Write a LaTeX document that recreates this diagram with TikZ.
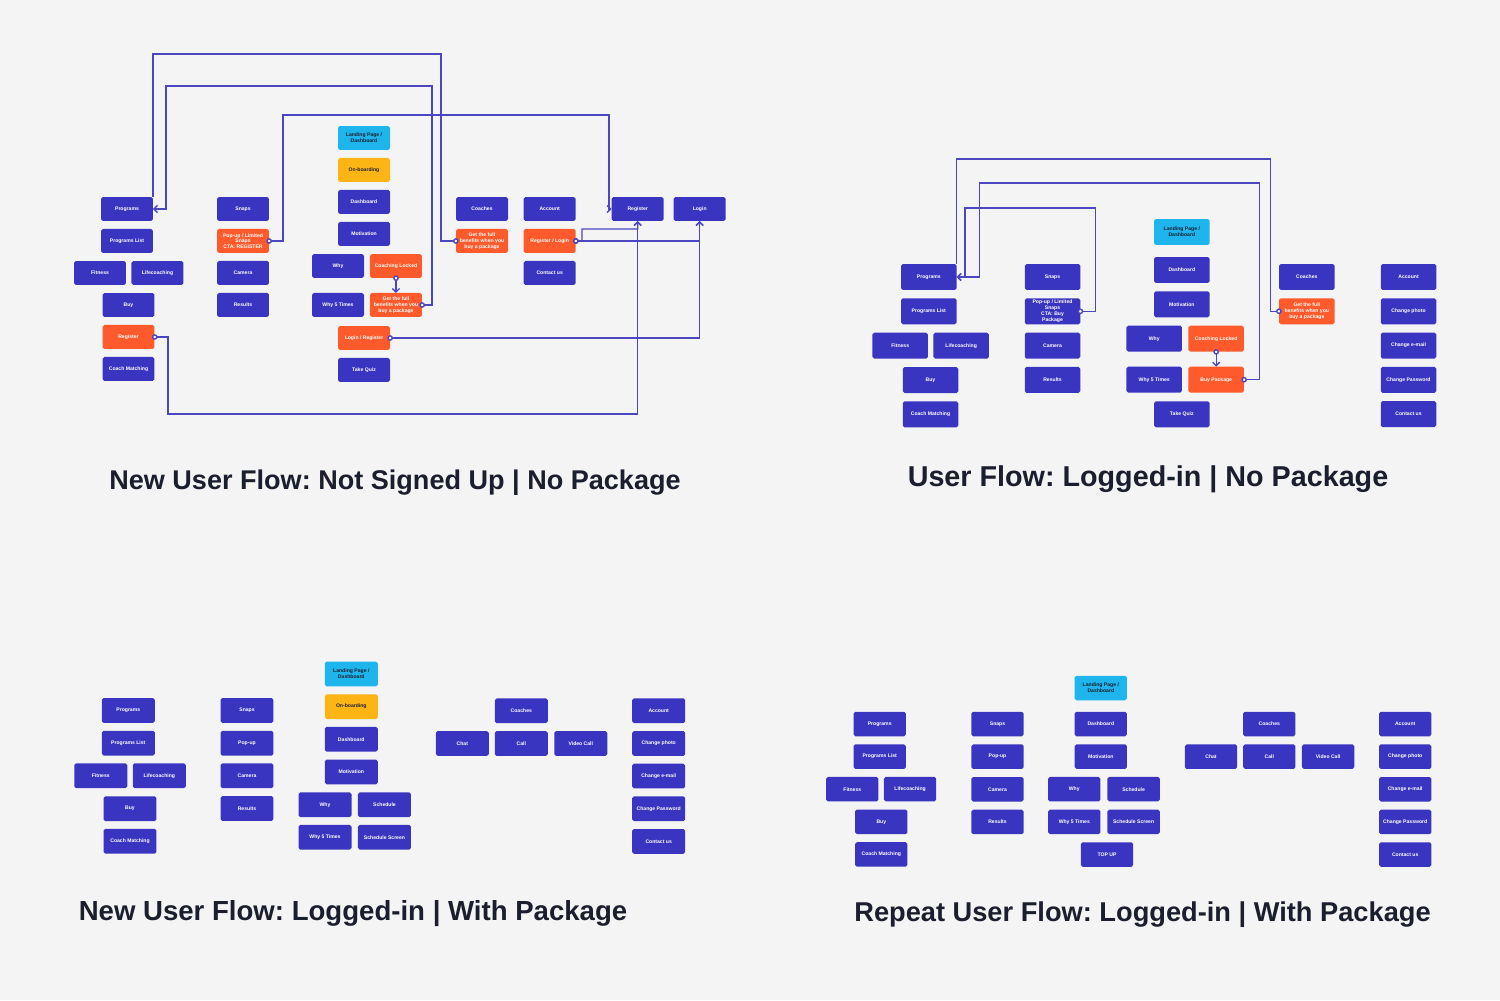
\documentclass[tikz,border=0pt]{standalone}
\usepackage{fontspec}
\setmainfont{Liberation Sans}
\usetikzlibrary{positioning,arrows.meta}

\definecolor{uxbg}{HTML}{F4F4F4}
\definecolor{uxblue}{HTML}{3A35C1}
\definecolor{uxorange}{HTML}{FF5A2B}
\definecolor{uxcyan}{HTML}{1DB5EC}
\definecolor{uxyellow}{HTML}{FDB515}
\definecolor{uxline}{HTML}{4C46C2}
\definecolor{uxnavy}{HTML}{1B1F2D}

\newcommand{\boxfont}{\fontsize{2.9}{3.3}\selectfont\bfseries}
\newcommand{\titlefont}[1]{\fontsize{#1}{19}\selectfont\bfseries\frenchspacing}

\tikzset{
  screen/.style={rectangle, rounded corners=1pt, fill=uxblue, text=white,
    font=\boxfont, align=center, inner sep=0pt, outer sep=0pt},
  locked/.style={screen, fill=uxorange},
  landing/.style={screen, fill=uxcyan, text=uxnavy},
  onboard/.style={screen, fill=uxyellow, text=uxnavy},
  link/.style={draw=uxline, line width=0.8pt, shorten <=-1.5pt},
  lead/.style={link, {Circle[length=3.2pt,fill=white]}-},
  flow/.style={link, {Circle[length=3.2pt,fill=white]}-{Straight Barb[length=2pt,width=4pt]}},
  title/.style={anchor=base, text=uxnavy}
}

\begin{document}
\begin{tikzpicture}[x=0.02cm, y=-0.02cm]
  \fill[uxbg] (0,0) rectangle (1500,1000);
  \useasboundingbox (0,0) rectangle (1500,1000);

  % New user flow: not signed up, no package
  \begin{scope}[node distance=0.16cm,
      screen/.append style={minimum width=1.04cm, minimum height=0.48cm}]
    % Define nodes
    \node[screen]                    at (127,209)   (aprog)     {Programs};
    \node[screen, below=of aprog]                   (aplist)    {Programs List};
    \node[screen]                    at (100,273)   (afit)      {Fitness};
    \node[screen, right=0.11cm of afit]             (alife)     {Lifecoaching};
    \node[screen]                    at (128.5,305) (abuy)      {Buy};
    \node[locked, below=of abuy]                    (areg)      {Register};
    \node[screen, below=of areg]                    (acoach)    {Coach Matching};

    \node[screen]                    at (243,209)   (asnaps)    {Snaps};
    \node[locked, below=of asnaps]                  (apopup)    {Pop-up / Limited\\Snaps\\CTA: REGISTER};
    \node[screen, below=of apopup]                  (acam)      {Camera};
    \node[screen, below=of acam]                    (ares)      {Results};

    \node[landing]                   at (364,138)   (aland)     {Landing Page /\\Dashboard};
    \node[onboard, below=of aland]                  (aonb)      {On-boarding};
    \node[screen, below=of aonb]                    (adash)     {Dashboard};
    \node[screen, below=of adash]                   (amot)      {Motivation};
    \node[screen]                    at (338,266)   (awhy)      {Why};
    \node[locked, right=0.12cm of awhy]             (alock)     {Coaching Locked};
    \node[screen, below=0.3cm of awhy]              (awhy5)     {Why 5 Times};
    \node[locked, below=0.3cm of alock]             (aben)      {Get the full\\benefits when you\\buy a package};
    \node[locked]                    at (364,338)   (alogreg)   {Login / Register};
    \node[screen, below=of alogreg]                 (aquiz)     {Take Quiz};

    \node[screen]                    at (482,209)   (acoaches)  {Coaches};
    \node[locked, below=of acoaches]                (aben2)     {Get the full\\benefits when you\\buy a package};
    \node[screen]                    at (549.7,209) (aacc)      {Account};
    \node[locked, below=of aacc]                    (areglog)   {Register / Login};
    \node[screen, below=of areglog]                 (acontact)  {Contact us};
    \node[screen]                    at (637.7,209) (aregister) {Register};
    \node[screen, right=0.2cm of aregister]         (alogin)    {Login};

    % Connect the nodes
    \draw[lead] (aben2.west) -| (441,54) -| (aprog.north east);
    \draw[flow] (aben.east) -| (432,86) -| (166,209) -- (aprog.east);
    \draw[flow] (apopup.east) -| (283,115) -| (609,209) -- (aregister.west);
    \draw[flow] (areg.east) -| (168,414) -| (aregister.south);
    \draw[flow] (alogreg.east) -| (alogin.south);
    \draw[flow] (areglog.east) -| (alogin.south);
    \draw[flow] (areglog.east) -- (582,241) -- (582,229) -| (aregister.south);
    \draw[flow] (alock.south) -- (aben.north);
  \end{scope}

  % Logged-in, no package
  \begin{scope}[node distance=0.166cm,
      screen/.append style={minimum width=1.11cm, minimum height=0.52cm}]
    % Define nodes
    \node[screen]                    at (928.8,277)  (bprog)    {Programs};
    \node[screen, below=of bprog]                    (bplist)   {Programs List};
    \node[screen]                    at (900.2,345.7) (bfit)    {Fitness};
    \node[screen, right=0.11cm of bfit]              (blife)    {Lifecoaching};
    \node[screen]                    at (930.5,380)  (bbuy)     {Buy};
    \node[screen, below=of bbuy]                     (bcoach)   {Coach Matching};

    \node[screen]                    at (1052.5,277) (bsnaps)   {Snaps};
    \node[screen, below=of bsnaps]                   (bpop)     {Pop-up / Limited\\Snaps\\CTA: Buy\\Package};
    \node[screen, below=of bpop]                     (bcam)     {Camera};
    \node[screen, below=of bcam]                     (bres)     {Results};

    \node[landing]                   at (1181.8,232) (bland)    {Landing Page /\\Dashboard};
    \node[screen]                    at (1181.8,270) (bdash)    {Dashboard};
    \node[screen, below=of bdash]                    (bmot)     {Motivation};
    \node[screen]                    at (1154.2,338.7) (bwhy)   {Why};
    \node[locked, right=0.13cm of bwhy]              (block)    {Coaching Locked};
    \node[screen, below=0.3cm of bwhy]               (bwhy5)    {Why 5 Times};
    \node[locked, below=0.3cm of block]              (bbuypk)   {Buy Package};
    \node[screen]                    at (1181.8,414.3) (bquiz)  {Take Quiz};

    \node[screen]                    at (1306.8,277) (bcoaches) {Coaches};
    \node[locked, below=of bcoaches]                 (bben)     {Get the full\\benefits when you\\buy a package};

    \node[screen]                    at (1408.5,277) (bacc)     {Account};
    \node[screen, below=of bacc]                     (bphoto)   {Change photo};
    \node[screen, below=of bphoto]                   (bmail)    {Change e-mail};
    \node[screen, below=of bmail]                    (bpass)    {Change Password};
    \node[screen, below=of bpass]                    (bcontact) {Contact us};

    % Connect the nodes
    \draw[lead] (bben.west) -| (1270.7,159) -| (bprog.north east);
    \draw[flow] (bbuypk.east) -| (1259.3,183) -| (979.3,277) -- (bprog.east);
    \draw[flow] (bpop.east) -| (1095.7,208) -| (965,277) -- (bprog.east);
    \draw[flow] (block.south) -- (bbuypk.north);
  \end{scope}

  % New user, logged-in, with package
  \begin{scope}[node distance=0.158cm,
      screen/.append style={minimum width=1.06cm, minimum height=0.495cm}]
    \node[screen]                    at (128.3,710.5) (cprog)   {Programs};
    \node[screen, below=of cprog]                     (cplist)  {Programs List};
    \node[screen]                    at (100.8,775.8) (cfit)    {Fitness};
    \node[screen, right=0.11cm of cfit]               (clife)   {Lifecoaching};
    \node[screen]                    at (130,808.7)   (cbuy)    {Buy};
    \node[screen, below=of cbuy]                      (ccoach)  {Coach Matching};

    \node[screen]                    at (247,710.5)   (csnaps)  {Snaps};
    \node[screen, below=of csnaps]                    (cpop)    {Pop-up};
    \node[screen, below=of cpop]                      (ccam)    {Camera};
    \node[screen, below=of ccam]                      (cres)    {Results};

    \node[landing]                   at (351.3,674)   (cland)   {Landing Page /\\Dashboard};
    \node[onboard, below=of cland]                    (conb)    {On-boarding};
    \node[screen, below=of conb]                      (cdash)   {Dashboard};
    \node[screen, below=of cdash]                     (cmot)    {Motivation};
    \node[screen]                    at (325,804.7)   (cwhy)    {Why};
    \node[screen, right=0.13cm of cwhy]               (csched)  {Schedule};
    \node[screen, below=of cwhy]                      (cwhy5)   {Why 5 Times};
    \node[screen, below=of csched]                    (cschscr) {Schedule Screen};

    \node[screen]                    at (521.3,710.8) (ccoaches) {Coaches};
    \node[screen, below=of ccoaches]                  (ccall)   {Call};
    \node[screen, left=0.12cm of ccall]               (cchat)   {Chat};
    \node[screen, right=0.13cm of ccall]              (cvideo)  {Video Call};

    \node[screen]                    at (658.7,710.8) (cacc)    {Account};
    \node[screen, below=of cacc]                      (cphoto)  {Change photo};
    \node[screen, below=of cphoto]                    (cmail)   {Change e-mail};
    \node[screen, below=of cmail]                     (cpass)   {Change Password};
    \node[screen, below=of cpass]                     (ccontact) {Contact us};
  \end{scope}

  % Repeat user, logged-in, with package
  \begin{scope}[node distance=0.163cm,
      screen/.append style={minimum width=1.046cm, minimum height=0.49cm}]
    \node[screen]                    at (879.7,724)   (dprog)   {Programs};
    \node[screen, below=of dprog]                     (dplist)  {Programs List};
    \node[screen]                    at (852.3,789.2) (dfit)    {Fitness};
    \node[screen, right=0.11cm of dfit]               (dlife)   {Lifecoaching};
    \node[screen]                    at (881.3,821.8) (dbuy)    {Buy};
    \node[screen, below=of dbuy]                      (dcoach)  {Coach Matching};

    \node[screen]                    at (997.5,724)   (dsnaps)  {Snaps};
    \node[screen, below=of dsnaps]                    (dpop)    {Pop-up};
    \node[screen, below=of dpop]                      (dcam)    {Camera};
    \node[screen, below=of dcam]                      (dres)    {Results};

    \node[landing]                   at (1100.8,688)  (dland)   {Landing Page /\\Dashboard};
    \node[screen]                    at (1100.8,724)  (ddash)   {Dashboard};
    \node[screen, below=of ddash]                     (dmot)    {Motivation};
    \node[screen]                    at (1074.3,789.2) (dwhy)   {Why};
    \node[screen, right=0.14cm of dwhy]               (dsched)  {Schedule};
    \node[screen, below=of dwhy]                      (dwhy5)   {Why 5 Times};
    \node[screen, below=of dsched]                    (dschscr) {Schedule Screen};
    \node[screen]                    at (1107,854.5)  (dtopup)  {TOP UP};

    \node[screen]                    at (1269.3,724)  (dcoaches) {Coaches};
    \node[screen, below=of dcoaches]                  (dcall)   {Call};
    \node[screen, left=0.12cm of dcall]               (dchat)   {Chat};
    \node[screen, right=0.13cm of dcall]              (dvideo)  {Video Call};

    \node[screen]                    at (1405.2,724)  (dacc)    {Account};
    \node[screen, below=of dacc]                      (dphoto)  {Change photo};
    \node[screen, below=of dphoto]                    (dmail)   {Change e-mail};
    \node[screen, below=of dmail]                     (dpass)   {Change Password};
    \node[screen, below=of dpass]                     (dcontact) {Contact us};
  \end{scope}

  % Titles
  \node[title, font=\titlefont{15.4}]  at (395,489)    (tnew)    {New User Flow: Not Signed Up | No Package};
  \node[title, font=\titlefont{16.35}] at (1148,486)   (tlogged) {User Flow: Logged-in | No Package};
  \node[title, font=\titlefont{15.7}]  at (353,920)    (tpack)   {New User Flow: Logged-in | With Package};
  \node[title, font=\titlefont{15.5}]  at (1142.5,921) (trepeat) {Repeat User Flow: Logged-in | With Package};
\end{tikzpicture}
\end{document}
